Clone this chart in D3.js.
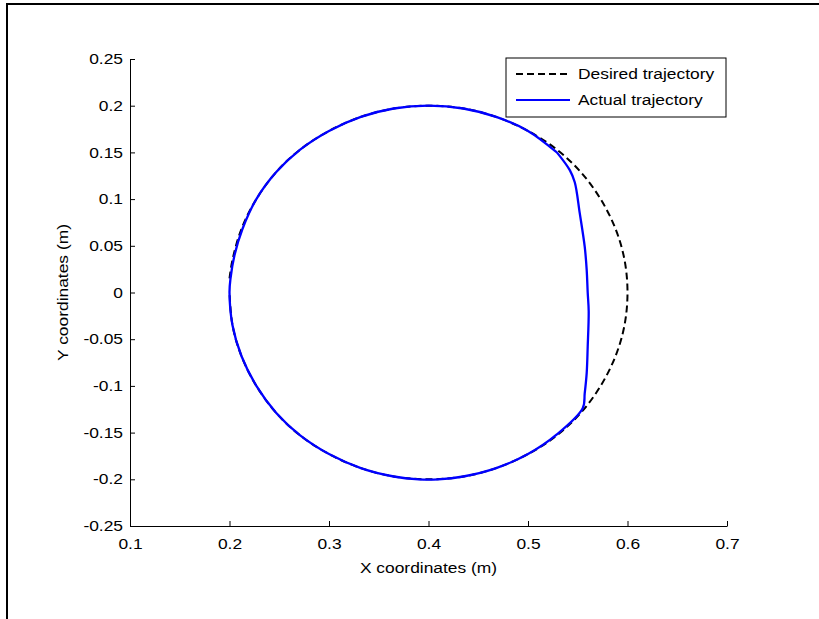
<!DOCTYPE html>
<html>
<head>
<meta charset="utf-8">
<script src="https://cdn.jsdelivr.net/npm/d3@7"></script>
<style>
  body { margin: 0; background: #fff; }
  svg text { font-family: "Liberation Sans", Arial, sans-serif; fill: #000; }
</style>
</head>
<body>
<div id="plotSect"></div>
<script>
// Values //

let xTicks = [0.1, 0.2, 0.3, 0.4, 0.5, 0.6, 0.7];
let yTicks = [-0.25, -0.2, -0.15, -0.1, -0.05, 0, 0.05, 0.1, 0.15, 0.2, 0.25];

// desired trajectory (x, y) in metres
let desiredX = [0.200, 0.203, 0.212, 0.227, 0.247, 0.271, 0.300, 0.332, 0.365, 0.400,
                0.435, 0.468, 0.500, 0.529, 0.553, 0.573, 0.588, 0.597, 0.600,
                0.597, 0.588, 0.573, 0.553, 0.529, 0.500, 0.468, 0.435, 0.400,
                0.365, 0.332, 0.300, 0.271, 0.247, 0.227, 0.212, 0.203, 0.200];
let desiredY = [0.015, 0.035, 0.068, 0.100, 0.129, 0.153, 0.173, 0.188, 0.197, 0.200,
                0.197, 0.188, 0.173, 0.153, 0.129, 0.100, 0.068, 0.035, 0.000,
                -0.035, -0.068, -0.100, -0.129, -0.153, -0.173, -0.188, -0.197, -0.200,
                -0.197, -0.188, -0.173, -0.153, -0.129, -0.100, -0.068, -0.035, 0.000];

// actual trajectory (x, y) in metres
let actualX = [0.529, 0.500, 0.468, 0.435, 0.400, 0.365, 0.332, 0.300, 0.271, 0.247,
               0.227, 0.213, 0.205, 0.201, 0.200, 0.203, 0.212, 0.227, 0.247, 0.271,
               0.300, 0.332, 0.365, 0.390, 0.410, 0.435, 0.468, 0.500, 0.529, 0.555,
               0.557, 0.559, 0.560, 0.561, 0.560, 0.559, 0.557, 0.552, 0.547, 0.542, 0.529];
let actualY = [0.150, 0.173, 0.188, 0.197, 0.200, 0.197, 0.188, 0.173, 0.153, 0.129,
               0.100, 0.068, 0.040, 0.015, 0.000, -0.035, -0.068, -0.100, -0.129, -0.153,
               -0.173, -0.188, -0.197, -0.200, -0.200, -0.197, -0.188, -0.173, -0.152, -0.124,
               -0.108, -0.086, -0.058, -0.020, 0.000, 0.024, 0.049, 0.085, 0.118, 0.131, 0.150];

let seriesNames = ["Desired trajectory", "Actual trajectory"];

// Chart setup //

let SVGwidth = 819,
    SVGheight = 619,
    margin = {top: 59, right: 92, bottom: 93, left: 130},
    width = SVGwidth - margin.left - margin.right,
    height = SVGheight - margin.top - margin.bottom;

let fontSize = "14.5px",
    stretch = 1.2;   // the figure's text is wider than Arial

let root = d3.select("#plotSect").append("svg")
    .attr("width", SVGwidth)
    .attr("height", SVGheight);

// outer figure frame (top and left edges)
root.append("path")
    .attr("d", "M7,620 V4 H820")
    .attr("fill", "none")
    .attr("stroke", "#000")
    .attr("stroke-width", 2);

let svg = root.append("g")
    .attr("transform", "translate(" + margin.left + "," + margin.top + ")");

// text that is drawn wider, anchored at (x, y)
function wideText(parent, x, y, str, anchor) {
    return parent.append("text")
        .attr("transform", "translate(" + x + "," + y + ") scale(" + stretch + ",1)")
        .style("text-anchor", anchor)
        .style("font-size", fontSize)
        .text(str);
}

let xScale = d3.scaleLinear().domain([0.1, 0.7]).range([0, width]);
let yScale = d3.scaleLinear().domain([-0.25, 0.25]).range([height, 0]);

let xAxis = d3.axisBottom(xScale)
    .tickValues(xTicks)
    .tickSizeInner(-5)
    .tickSizeOuter(0)
    .tickFormat(function(d) { return String(d); });

let yAxis = d3.axisLeft(yScale)
    .tickValues(yTicks)
    .tickSizeInner(-5)
    .tickSizeOuter(0)
    .tickFormat(function(d) { return String(d); });

let gx = svg.append("g")
    .attr("class", "xAxis")
    .attr("transform", "translate(0," + height + ")")
    .call(xAxis);

let gy = svg.append("g")
    .attr("class", "yAxis")
    .call(yAxis);

gx.selectAll(".tick text")
    .attr("y", 0).attr("dy", "0.35em")
    .attr("transform", "translate(0,18) scale(" + stretch + ",1)")
    .style("font-size", fontSize);

gy.selectAll(".tick text")
    .attr("x", 0)
    .attr("transform", "translate(-7,0) scale(" + stretch + ",1)")
    .style("font-size", fontSize);

[gx, gy].forEach(function(g) {
    g.selectAll("line, path").attr("stroke", "#000");
    g.selectAll("text").style("font-family", "Liberation Sans, Arial, sans-serif");
});

wideText(svg, width / 2, height + 47, "X coordinates (m)", "middle");

svg.append("text")
    .attr("transform", "translate(-62," + (height / 2) + ") rotate(-90) scale(" + stretch + ",1)")
    .style("text-anchor", "middle")
    .style("font-size", fontSize)
    .text("Y coordinates (m)");

// Lines //

let line = d3.line()
    .curve(d3.curveCatmullRom.alpha(0.5))
    .x(function(d) { return xScale(d[0]); })
    .y(function(d) { return yScale(d[1]); });

let desired = desiredX.map(function(x, i) { return [x, desiredY[i]]; });
let actual = actualX.map(function(x, i) { return [x, actualY[i]]; });

svg.append("path")
    .datum(desired)
    .attr("d", line)
    .attr("fill", "none")
    .attr("stroke", "#000")
    .attr("stroke-width", 2)
    .attr("stroke-dasharray", "7,4");

svg.append("path")
    .datum(actual)
    .attr("d", line)
    .attr("fill", "none")
    .attr("stroke", "#0000ff")
    .attr("stroke-width", 2.3)
    .attr("stroke-linejoin", "round");

// Legend //

let legX = 376, legY = -1, legW = 220, legH = 59;
let legend = svg.append("g")
    .attr("transform", "translate(" + legX + "," + legY + ")");

legend.append("rect")
    .attr("width", legW)
    .attr("height", legH)
    .attr("fill", "#fff")
    .attr("stroke", "#000")
    .attr("stroke-width", 1);

let legItems = legend.selectAll(".legend")
    .data(seriesNames)
    .enter().append("g")
    .attr("class", "legend")
    .attr("transform", function(d, i) { return "translate(0," + (16 + i * 26) + ")"; });

legItems.append("line")
    .attr("x1", 10)
    .attr("x2", 64)
    .attr("stroke", function(d, i) { return i == 0 ? "#000" : "#0000ff"; })
    .attr("stroke-width", 2)
    .attr("stroke-dasharray", function(d, i) { return i == 0 ? "7,4" : null; });

legItems.each(function(d) {
    wideText(d3.select(this), 72, 0, d, "start").attr("dy", "0.35em");
});
</script>
</body>
</html>
